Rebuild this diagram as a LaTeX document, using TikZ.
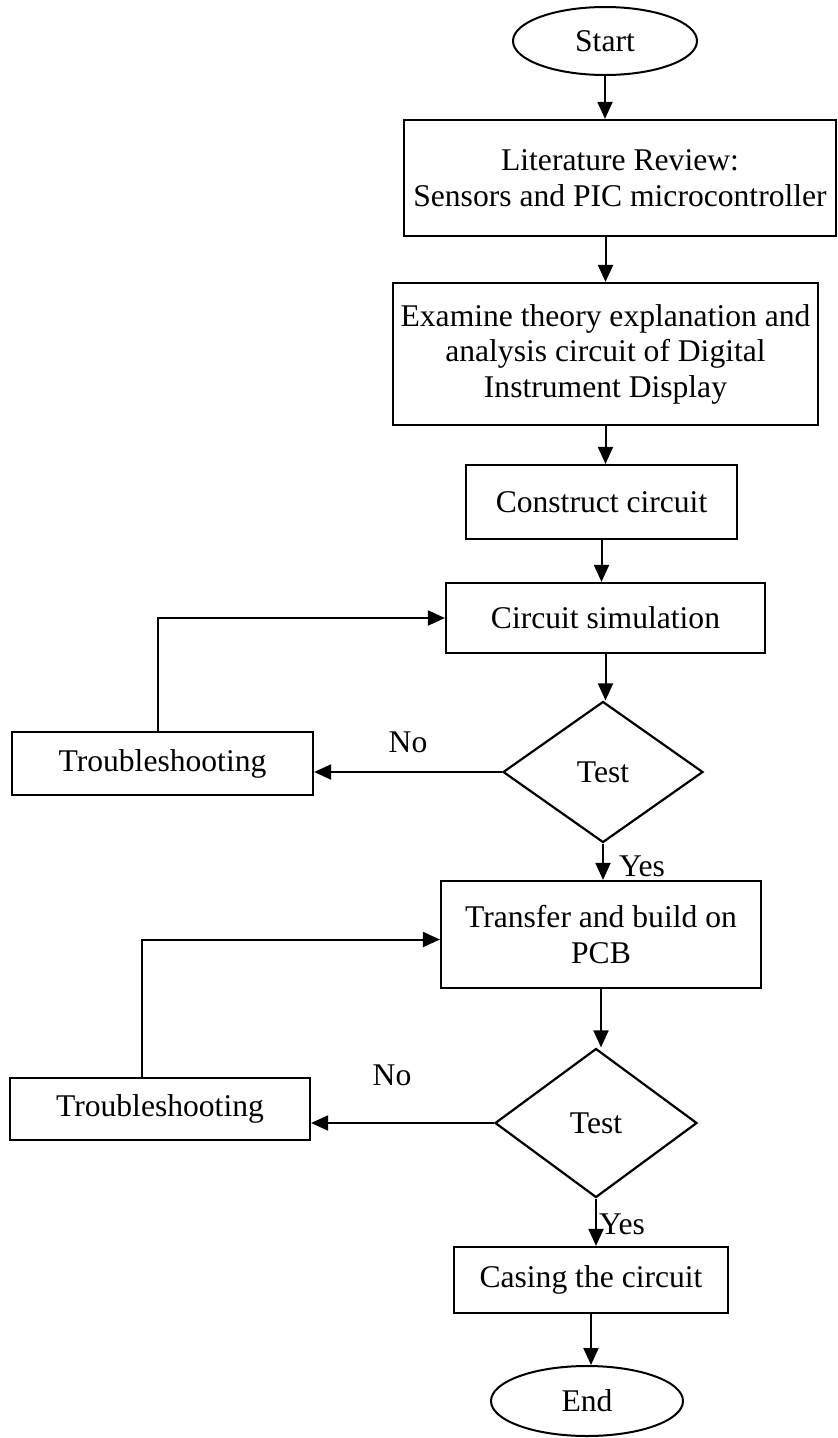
\documentclass[tikz,border=0pt]{standalone}
\usepackage{fontspec}
\setmainfont{Liberation Serif}
\usetikzlibrary{shapes.geometric,arrows.meta,calc}
\begin{document}
\begin{tikzpicture}[x=1pt,y=-1pt,
  every node/.style={font=\fontsize{31.6}{35.5}\selectfont, inner sep=2pt},
  box/.style={draw, line width=2.2pt, rectangle, align=center},
  term/.style={draw, line width=2pt, ellipse, inner sep=0pt},
  dia/.style={draw, line width=2.2pt, diamond, aspect=1.42, inner sep=0pt},
  arr/.style={line width=2pt, -{Triangle[length=17pt,width=15pt]}},
  lbl/.style={inner sep=0pt}]
\useasboundingbox[fill=white] (0,0) rectangle (838,1438);

\node[term, minimum width=184pt, minimum height=68pt] (start) at (605,41) {Start};
\node[box, minimum width=432pt, minimum height=116pt] (lit) at (620,178) {Literature Review:\\Sensors and PIC microcontroller};
\node[box, minimum width=425pt, minimum height=142pt] (exam) at (605.5,354) {Examine theory explanation and\\analysis circuit of Digital\\Instrument Display};
\node[box, minimum width=271pt, minimum height=74pt] (cons) at (601.5,502) {Construct circuit};
\node[box, minimum width=319pt, minimum height=70pt] (sim) at (605.5,618) {Circuit simulation};
\node[dia, minimum width=200pt, minimum height=141pt] (t1) at (603,772) {Test};
\node[box, minimum width=301pt, minimum height=63pt] (tr1) at (162.5,763.5) {Troubleshooting};
\node[box, minimum width=320pt, minimum height=107pt] (pcb) at (601,934.5) {Transfer and build on\\PCB};
\node[dia, minimum width=202pt, minimum height=149pt] (t2) at (596,1123) {Test};
\node[box, minimum width=300pt, minimum height=62pt] (tr2) at (160,1109) {Troubleshooting};
\node[box, minimum width=274pt, minimum height=66pt] (case) at (591,1280) {Casing the circuit};
\node[term, minimum width=192pt, minimum height=70pt] (end) at (587,1401) {End};

\node[lbl] (no1) at (408,742) {No};
\node[lbl] (no2) at (392,1075) {No};
\node[lbl] (yes1) at (642,866) {Yes};
\node[lbl] (yes2) at (622,1224) {Yes};

\draw[arr] (start.south) -- (start.south |- lit.north);
\draw[arr] (lit.south -| exam.north) -- (exam.north);
\draw[arr] (exam.south) -- (exam.south |- cons.north);
\draw[arr] (cons.south) -- (cons.south |- sim.north);
\draw[arr] (sim.south) -- (sim.south |- t1.north);
\draw[arr] (t1.south) -- (t1.south |- pcb.north);
\draw[arr] (pcb.south) -- (pcb.south |- t2.north);
\draw[arr] (t2.south) -- (t2.south |- case.north);
\draw[arr] (case.south) -- (case.south |- end.north);

\draw[arr] (t1.west) -- (t1.west -| tr1.east);
\draw[arr] (t2.west) -- (t2.west -| tr2.east);
\draw[arr] ([xshift=-5pt]tr1.north) |- (sim.west);
\draw[arr] ([xshift=-18pt]tr2.north) |- ([yshift=-5pt]pcb.west);
\end{tikzpicture}
\end{document}
